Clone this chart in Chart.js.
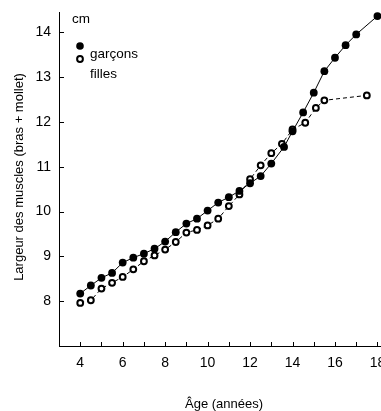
<!DOCTYPE html>
<html>
<head>
<meta charset="utf-8">
<script src="https://cdn.jsdelivr.net/npm/chart.js@4"></script>
<style>
    html, body { margin: 0; padding: 0; background: #fff; overflow: hidden; }
    canvas { display: block; }
</style>
</head>
<body>
<canvas id="myChart" width="400" height="411"></canvas>
<script>
// ages (années) and muscle width (cm)
const boysAge = [4, 4.5, 5, 5.5, 6, 6.5, 7, 7.5, 8, 8.5, 9, 9.5, 10, 10.5, 11, 11.5, 12, 12.5, 13, 13.6, 14, 14.5, 15, 15.5, 16, 16.5, 17, 18];
const boysWidth = [8.17, 8.35, 8.52, 8.63, 8.86, 8.97, 9.06, 9.17, 9.33, 9.54, 9.73, 9.84, 10.02, 10.2, 10.32, 10.46, 10.63, 10.79, 11.07, 11.44, 11.79, 12.21, 12.65, 13.13, 13.43, 13.71, 13.95, 14.36];
const girlsAge = [4, 4.5, 5, 5.5, 6, 6.5, 7, 7.5, 8, 8.5, 9, 9.5, 10, 10.5, 11, 11.5, 12, 12.5, 13, 13.5, 14, 14.6, 15.1, 15.5, 17.5];
const girlsWidth = [7.96, 8.02, 8.28, 8.41, 8.54, 8.71, 8.89, 9.02, 9.15, 9.32, 9.53, 9.59, 9.69, 9.84, 10.12, 10.38, 10.72, 11.03, 11.3, 11.51, 11.83, 11.98, 12.31, 12.48, 12.59];
const xTicks = [4, 5, 6, 7, 8, 9, 10, 11, 12, 13, 14, 15, 16, 17, 18];
const xLabels = [4, 6, 8, 10, 12, 14, 16, 18];
const yTicks = [8, 9, 10, 11, 12, 13, 14];

const font = "'Liberation Sans', Arial, sans-serif";

function toPoints(xs, ys) {
    return xs.map((x, i) => ({ x: x, y: ys[i] }));
}

// inward tick marks, axis titles and legend
const decor = {
    id: "decor",
    afterDraw(chart) {
        const c = chart.ctx;
        const xs = chart.scales.x;
        const ys = chart.scales.y;
        const area = chart.chartArea;
        c.save();
        c.strokeStyle = "#000";
        c.lineWidth = 1;
        c.beginPath();
        xTicks.forEach((v) => {
            const px = Math.round(xs.getPixelForValue(v)) + 0.5;
            c.moveTo(px, area.bottom);
            c.lineTo(px, area.bottom - 4);
        });
        yTicks.forEach((v) => {
            const py = Math.round(ys.getPixelForValue(v)) + 0.5;
            c.moveTo(area.left + 1, py);
            c.lineTo(area.left + 5, py);
        });
        c.stroke();

        // legend
        c.fillStyle = "#000";
        c.beginPath();
        c.arc(80, 46, 3.8, 0, Math.PI * 2);
        c.fill();
        c.beginPath();
        c.arc(80, 59, 2.9, 0, Math.PI * 2);
        c.fillStyle = "#fff";
        c.fill();
        c.lineWidth = 2;
        c.stroke();

        c.fillStyle = "#000";
        c.font = "13.5px " + font;
        c.textBaseline = "alphabetic";
        c.textAlign = "left";
        c.fillText("cm", 72, 23);
        c.fillText("garçons", 90, 58);
        c.fillText("filles", 90, 78);

        // axis titles
        c.font = "13px " + font;
        c.textAlign = "center";
        c.textBaseline = "middle";
        c.fillText("Âge (années)", 224, 404);
        c.translate(19, 177);
        c.rotate(-Math.PI / 2);
        c.fillText("Largeur des muscles (bras + mollet)", 0, 0);
        c.restore();
    },
};

const ctx = document.getElementById("myChart").getContext("2d");
const chart = new Chart(ctx, {
    type: "scatter",
    data: {
        datasets: [
            {
                label: "garçons",
                data: toPoints(boysAge, boysWidth),
                showLine: true,
                borderColor: "#000",
                borderWidth: 1,
                pointBackgroundColor: "#000",
                pointBorderColor: "#000",
                pointBorderWidth: 0,
                pointRadius: 3.9,
                tension: 0,
            },
            {
                label: "filles",
                data: toPoints(girlsAge, girlsWidth),
                showLine: true,
                borderColor: "#000",
                borderWidth: 1,
                borderDash: [4, 3],
                pointBackgroundColor: "#fff",
                pointBorderColor: "#000",
                pointBorderWidth: 2,
                pointRadius: 2.9,
                tension: 0,
            },
        ],
    },
    options: {
        responsive: false,
        animation: false,
        events: [],
        layout: { padding: { top: 12, right: 0, left: 0, bottom: 0 } },
        plugins: {
            legend: { display: false },
            tooltip: { enabled: false },
        },
        scales: {
            x: {
                type: "linear",
                min: 3,
                max: 18.78,
                afterBuildTicks: (scale) => {
                    scale.ticks = xLabels.map((v) => ({ value: v }));
                },
                afterFit: (scale) => {
                    scale.height = 65;
                    scale.paddingLeft = 0;
                    scale.paddingRight = 0;
                },
                grid: { display: false, drawTicks: false },
                border: { display: true, color: "#000", width: 1 },
                ticks: {
                    autoSkip: false,
                    maxRotation: 0,
                    padding: 9,
                    color: "#000",
                    font: { family: font, size: 14 },
                },
            },
            y: {
                type: "linear",
                min: 7,
                max: 14.45,
                afterBuildTicks: (scale) => {
                    scale.ticks = yTicks.map((v) => ({ value: v }));
                },
                afterFit: (scale) => {
                    scale.width = 59;
                    scale.paddingTop = 0;
                    scale.paddingBottom = 0;
                },
                grid: { display: false, drawTicks: false },
                border: { display: true, color: "#000", width: 1 },
                ticks: {
                    autoSkip: false,
                    padding: 8,
                    color: "#000",
                    font: { family: font, size: 14 },
                },
            },
        },
    },
    plugins: [decor],
});
</script>
</body>
</html>
